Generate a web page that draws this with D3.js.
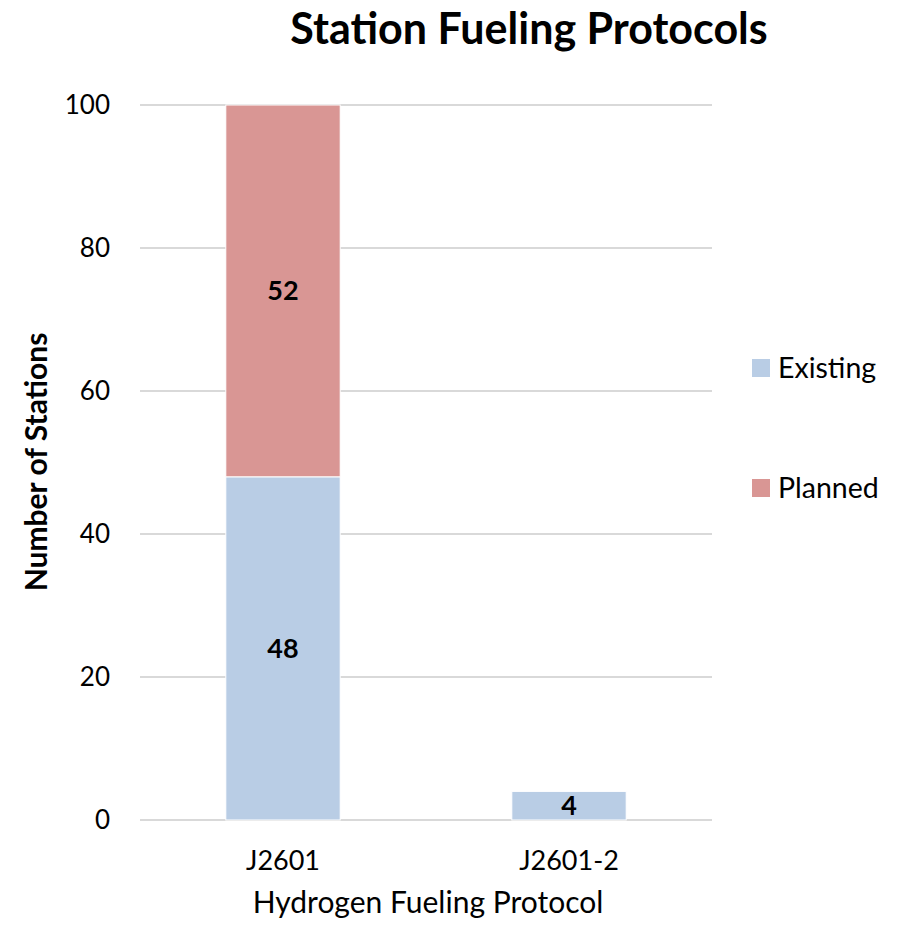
<!DOCTYPE html>
<html><head><meta charset="utf-8">
<script src="https://cdn.jsdelivr.net/npm/d3@7"></script>
<style>body{margin:0;background:#fff}svg{display:block}text{font-family:Lato,"Open Sans",sans-serif}</style>
</head><body>
<svg id="c" width="897" height="925"></svg>
<script>
const categories = ["J2601", "J2601-2"];
const existing = [48, 4];
const planned = [52, 0];
const seriesNames = ["Existing", "Planned"];
const yTicks = [0, 20, 40, 60, 80, 100];
const colors = ["#B9CDE5", "#D99694"];

(function () {
const svg = d3.select("#c");
const pL = 140, pR = 712, pT = 105, pB = 820;
const x = d3.scaleBand().domain(categories).range([pL, pR]).paddingInner(0.6).paddingOuter(0.3);
const y = d3.scaleLinear().domain([0, 100]).range([pB, pT]);

svg.append("g").selectAll("line").data(yTicks).join("line")
  .attr("x1", pL).attr("x2", pR)
  .attr("y1", d => y(d)).attr("y2", d => y(d))
  .attr("stroke", "#D9D9D9").attr("stroke-width", 2);

const data = categories.map((c, i) => ({cat: c, Existing: existing[i], Planned: planned[i]}));
const stack = d3.stack().keys(seriesNames)(data);

stack.forEach((s, si) => {
  const vis = s.filter(d => d[1] - d[0] > 0);
  svg.append("g").selectAll("rect").data(vis).join("rect")
    .attr("x", d => x(d.data.cat)).attr("width", x.bandwidth())
    .attr("y", d => y(d[1])).attr("height", d => y(d[0]) - y(d[1]))
    .attr("fill", colors[si]).attr("stroke", "#fff").attr("stroke-width", 1);
  svg.append("g").selectAll("text").data(vis).join("text")
    .attr("x", d => x(d.data.cat) + x.bandwidth() / 2)
    .attr("y", d => (y(d[0]) + y(d[1])) / 2)
    .attr("dy", "0.35em").attr("text-anchor", "middle")
    .attr("font-size", 27).attr("font-weight", "bold").attr("fill", "#000")
    .text(d => d[1] - d[0]);
});

svg.append("g").selectAll("text").data(yTicks).join("text")
  .attr("x", 110).attr("y", d => y(d)).attr("dy", "0.35em")
  .attr("text-anchor", "end").attr("font-size", 26).attr("fill", "#000")
  .text(d => d);

svg.append("g").selectAll("text").data(categories).join("text")
  .attr("x", d => x(d) + x.bandwidth() / 2).attr("y", 861).attr("dy", "0.35em")
  .attr("text-anchor", "middle").attr("font-size", 27).attr("fill", "#000")
  .text(d => d);

svg.append("text").attr("x", 529).attr("y", 44).attr("text-anchor", "middle")
  .attr("font-size", 43).attr("font-weight", "bold").attr("fill", "#000")
  .text("Station Fueling Protocols");
svg.append("text").attr("x", 428).attr("y", 913).attr("text-anchor", "middle")
  .attr("font-size", 30).attr("fill", "#000").text("Hydrogen Fueling Protocol");
svg.append("text").attr("transform", "translate(36,462) rotate(-90)").attr("dy", "0.35em")
  .attr("text-anchor", "middle").attr("font-size", 30).attr("font-weight", "bold").attr("fill", "#000")
  .text("Number of Stations");

const leg = svg.append("g").selectAll("g").data(seriesNames).join("g")
  .attr("transform", (d, i) => `translate(752,${368 + i * 120})`);
leg.append("rect").attr("x", 0).attr("y", -9).attr("width", 18).attr("height", 18)
  .attr("fill", (d, i) => colors[i]);
leg.append("text").attr("x", 26).attr("y", 0).attr("dy", "0.35em")
  .attr("font-size", 28.5).attr("fill", "#000").text(d => d);
})();
</script>
</body></html>
